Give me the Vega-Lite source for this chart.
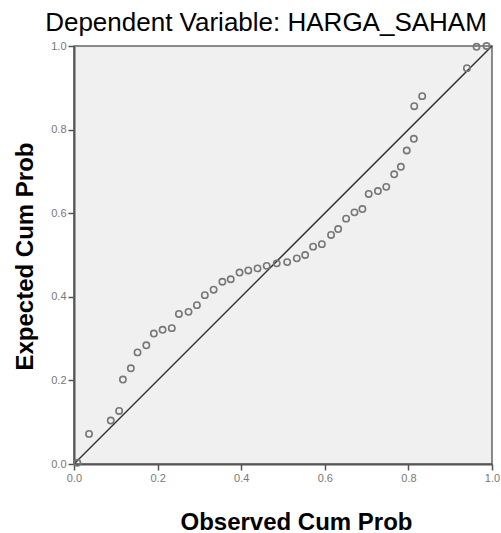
{
  "$schema": "https://vega.github.io/schema/vega-lite/v6.json",
  "autosize": {"type": "none"},
  "width": 418,
  "height": 418,
  "padding": {"left": 74, "top": 46, "right": 9, "bottom": 69},
  "background": "white",
  "title": {"text": "Dependent Variable: HARGA_SAHAM", "font": "Liberation Sans", "fontSize": 26, "fontWeight": "normal", "color": "#000", "anchor": "middle", "dx": -17, "offset": 4},
  "view": {"fill": "#f0f0f0", "stroke": "#666", "strokeWidth": 1.5},
  "encoding": {
    "x": {"field": "x", "type": "quantitative", "scale": {"domain": [0, 1], "nice": false},
      "axis": {"title": "Observed Cum Prob", "values": [0, 0.2, 0.4, 0.6, 0.8, 1], "format": ".1f", "grid": false, "domainColor": "#555", "domainWidth": 2, "tickColor": "#555", "tickSize": 6, "tickWidth": 1.5, "labelColor": "#777", "labelFont": "Liberation Sans", "labelFontSize": 11, "labelPadding": 2, "labelFlush": false, "titleFont": "Liberation Sans", "titleFontSize": 24, "titleFontWeight": "bold", "titleColor": "#000", "titleX": 222, "titleY": 65, "titleBaseline": "alphabetic"}},
    "y": {"field": "y", "type": "quantitative", "scale": {"domain": [0, 1], "nice": false},
      "axis": {"title": "Expected Cum Prob", "values": [0, 0.2, 0.4, 0.6, 0.8, 1], "format": ".1f", "grid": false, "domainColor": "#555", "domainWidth": 2, "tickColor": "#555", "tickSize": 6, "tickWidth": 1.5, "labelColor": "#777", "labelFont": "Liberation Sans", "labelFontSize": 11, "labelPadding": 2, "labelFlush": false, "titleFont": "Liberation Sans", "titleFontSize": 24, "titleFontWeight": "bold", "titleColor": "#000", "titleX": -42, "titleY": 210, "titleBaseline": "alphabetic", "titleAngle": -90}}
  },
  "layer": [
    {
      "data": {"values": [{"x": 0, "y": 0, "x2": 1, "y2": 1}]},
      "mark": {"type": "rule", "color": "#333", "strokeWidth": 1.5},
      "encoding": {"x2": {"field": "x2"}, "y2": {"field": "y2"}}
    },
    {
      "data": {"values": [
        {"x": 0.008, "y": 0.003}, {"x": 0.036, "y": 0.072}, {"x": 0.088, "y": 0.104}, {"x": 0.108, "y": 0.127},
        {"x": 0.117, "y": 0.202}, {"x": 0.136, "y": 0.229}, {"x": 0.152, "y": 0.267}, {"x": 0.173, "y": 0.284},
        {"x": 0.191, "y": 0.312}, {"x": 0.212, "y": 0.321}, {"x": 0.234, "y": 0.325}, {"x": 0.251, "y": 0.359},
        {"x": 0.274, "y": 0.364}, {"x": 0.294, "y": 0.380}, {"x": 0.313, "y": 0.404}, {"x": 0.334, "y": 0.417},
        {"x": 0.355, "y": 0.436}, {"x": 0.375, "y": 0.442}, {"x": 0.396, "y": 0.458}, {"x": 0.417, "y": 0.463},
        {"x": 0.439, "y": 0.468}, {"x": 0.461, "y": 0.474}, {"x": 0.485, "y": 0.480}, {"x": 0.510, "y": 0.483},
        {"x": 0.533, "y": 0.492}, {"x": 0.553, "y": 0.500}, {"x": 0.572, "y": 0.520}, {"x": 0.593, "y": 0.526},
        {"x": 0.615, "y": 0.548}, {"x": 0.632, "y": 0.562}, {"x": 0.651, "y": 0.587}, {"x": 0.671, "y": 0.602},
        {"x": 0.690, "y": 0.610}, {"x": 0.705, "y": 0.646}, {"x": 0.727, "y": 0.653}, {"x": 0.747, "y": 0.663},
        {"x": 0.766, "y": 0.693}, {"x": 0.782, "y": 0.711}, {"x": 0.796, "y": 0.750}, {"x": 0.813, "y": 0.778},
        {"x": 0.814, "y": 0.856}, {"x": 0.833, "y": 0.880}, {"x": 0.940, "y": 0.947}, {"x": 0.963, "y": 0.998},
        {"x": 0.987, "y": 1.0}
      ]},
      "mark": {"type": "point", "shape": "circle", "filled": false, "size": 40, "stroke": "#777", "strokeWidth": 1.6, "opacity": 1, "clip": false}
    }
  ]
}
